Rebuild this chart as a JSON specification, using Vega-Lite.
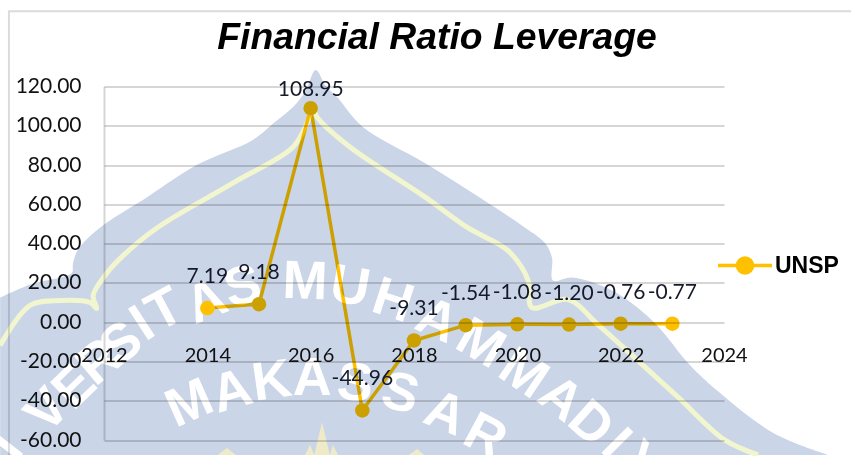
{"$schema":"https://vega.github.io/schema/vega-lite/v6.json","width":620,"height":353.5,"autosize":{"type":"none"},"padding":{"left":104,"top":86.5,"right":127,"bottom":16},"background":"white",
"title":{"text":"Financial Ratio Leverage","font":"Liberation Sans","fontSize":37.3,"fontWeight":"bold","fontStyle":"italic","color":"black","anchor":"middle","dx":23,"offset":-50},
"config":{"view":{"stroke":null}},
"datasets":{
"series":[{"year":2014,"value":7.19,"label":"7.19","series":"UNSP"},{"year":2015,"value":9.18,"label":"9.18","series":"UNSP"},{"year":2016,"value":108.95,"label":"108.95","series":"UNSP"},{"year":2017,"value":-44.96,"label":"-44.96","series":"UNSP"},{"year":2018,"value":-9.31,"label":"-9.31","series":"UNSP"},{"year":2019,"value":-1.54,"label":"-1.54","series":"UNSP"},{"year":2020,"value":-1.08,"label":"-1.08","series":"UNSP"},{"year":2021,"value":-1.2,"label":"-1.20","series":"UNSP"},{"year":2022,"value":-0.76,"label":"-0.76","series":"UNSP"},{"year":2023,"value":-0.77,"label":"-0.77","series":"UNSP"}],
"shape":[{"x":2009.99,"y":12.5},{"x":2010.63,"y":19.7},{"x":2011.2,"y":23},{"x":2011.38,"y":25.2},{"x":2011.4,"y":30},{"x":2011.5,"y":37},{"x":2011.92,"y":48.1},{"x":2012.85,"y":63.9},{"x":2013.8,"y":80.1},{"x":2014.88,"y":92.8},{"x":2015.31,"y":101.9},{"x":2015.66,"y":109.6},{"x":2015.89,"y":117.2},{"x":2016.1,"y":128.4},{"x":2016.28,"y":120.7},{"x":2016.51,"y":114.6},{"x":2017.01,"y":99.4},{"x":2018.21,"y":81.1},{"x":2019.28,"y":63.3},{"x":2020.15,"y":48.1},{"x":2020.53,"y":40.4},{"x":2020.67,"y":32.9},{"x":2020.69,"y":21.2},{"x":2021.06,"y":22.7},{"x":2021.83,"y":16.1},{"x":2022.61,"y":0.9},{"x":2023.38,"y":-23},{"x":2024.02,"y":-38.2},{"x":2024.99,"y":-57},{"x":2026.01,"y":-67.6}],
"curve":[{"o":1,"x":2009.99,"y":-11.8},{"o":2,"x":2010.57,"y":8.5},{"o":3,"x":2011.15,"y":11},{"o":4,"x":2011.73,"y":10},{"o":5,"x":2011.86,"y":7},{"o":6,"x":2011.79,"y":13.6},{"o":7,"x":2012.06,"y":25.2},{"o":8,"x":2012.37,"y":33.9},{"o":9,"x":2013.03,"y":48.1},{"o":10,"x":2014.5,"y":70.9},{"o":11,"x":2015.66,"y":89.2},{"o":12,"x":2015.93,"y":101.4},{"o":13,"x":2016.04,"y":109.1},{"o":14,"x":2016.12,"y":104.5},{"o":15,"x":2016.76,"y":89.2},{"o":16,"x":2018.21,"y":63.8},{"o":17,"x":2019.04,"y":48.1},{"o":18,"x":2019.82,"y":36.4},{"o":19,"x":2020.21,"y":21.2},{"o":20,"x":2020.28,"y":7.5},{"o":21,"x":2020.98,"y":11.5},{"o":22,"x":2021.56,"y":-1.2},{"o":23,"x":2022.33,"y":-19.5},{"o":24,"x":2023.11,"y":-38.2},{"o":25,"x":2024.02,"y":-60.1},{"o":26,"x":2024.66,"y":-67.6}],
"frame":[{"o":1,"x":2010.16,"y":-67.6},{"o":2,"x":2010.16,"y":158.3},{"o":3,"x":2026.46,"y":158.3}],
"spikes":[{"g":"a","x":2016.07,"y":-67.6},{"g":"a","x":2016.22,"y":-50.9},{"g":"a","x":2016.37,"y":-67.6},{"g":"b","x":2015.89,"y":-67.6},{"g":"b","x":2015.99,"y":-62.6},{"g":"b","x":2016.07,"y":-67.6},{"g":"c","x":2016.37,"y":-67.6},{"g":"c","x":2016.43,"y":-62.6},{"g":"c","x":2016.53,"y":-67.6},{"g":"d","x":2017.9,"y":-67.6},{"g":"d","x":2018.06,"y":-64.6},{"g":"d","x":2018.2,"y":-67.6},{"g":"e","x":2014.2,"y":-67.6},{"g":"e","x":2014.38,"y":-64.1},{"g":"e","x":2014.55,"y":-67.6}],
"letters":[{"t":"I","x":2010.14,"y":-63.6,"r":-52},{"t":"V","x":2010.92,"y":-45.3,"r":-47},{"t":"E","x":2011.44,"y":-33.2,"r":-44},{"t":"R","x":2011.92,"y":-20.5,"r":-40},{"t":"S","x":2012.35,"y":-11.3,"r":-37},{"t":"I","x":2012.75,"y":-1.2,"r":-33},{"t":"T","x":2013.18,"y":5.9,"r":-28},{"t":"A","x":2013.99,"y":10,"r":-22},{"t":"S","x":2014.69,"y":17.6,"r":-14},{"t":"M","x":2015.89,"y":20.2,"r":2},{"t":"U","x":2016.76,"y":17.6,"r":10},{"t":"H","x":2017.59,"y":10.5,"r":18},{"t":"A","x":2018.44,"y":0.4,"r":24},{"t":"M","x":2019.28,"y":-11.3,"r":30},{"t":"M","x":2020.11,"y":-26.6,"r":34},{"t":"A","x":2020.83,"y":-39.3,"r":38},{"t":"D","x":2021.41,"y":-52,"r":42},{"t":"I","x":2021.9,"y":-62.1,"r":45},{"t":"Y","x":2022.37,"y":-72.2,"r":47},{"t":"M","x":2013.66,"y":-41.8,"r":-24},{"t":"A","x":2014.48,"y":-35.7,"r":-16},{"t":"K","x":2015.25,"y":-30.6,"r":-8},{"t":"A","x":2016.03,"y":-29.1,"r":0},{"t":"S","x":2016.86,"y":-31.6,"r":6},{"t":"S","x":2017.73,"y":-36.7,"r":14},{"t":"A","x":2018.6,"y":-46.9,"r":22},{"t":"R","x":2019.37,"y":-58.6,"r":28}]
},
"layer":[
{"data":{"name":"shape"},"mark":{"type":"area","color":"#CBD5E8","interpolate":"catmull-rom"},"encoding":{"x":{"field":"x","type":"quantitative","scale":{"domain":[2012,2024],"nice":false,"zero":false},"axis":{"orient":"bottom","offset":-117.3,"values":[2012,2014,2016,2018,2020,2022,2024],"tickCount":20,"format":"d","title":null,"grid":false,"ticks":false,"domain":false,"labelFont":"Lato","labelFontSize":20,"labelColor":"#111","labelPadding":23,"labelOverlap":false,"labelBound":false,"labelFlush":false,"zindex":1}},"y":{"field":"y","type":"quantitative","scale":{"domain":[-60,120],"nice":false,"zero":false},"axis":{"values":[-60,-40,-20,0,20,40,60,80,100,120],"tickCount":30,"labelExpr":"replace(format(datum.value,'.2f'),'−','-')","title":null,"grid":true,"gridColor":"black","gridOpacity":0.16,"gridWidth":2,"ticks":false,"domain":true,"domainColor":"black","domainOpacity":0.16,"domainWidth":2,"labelFont":"Lato","labelFontSize":21,"labelColor":"#111","labelPadding":23,"labelOverlap":false,"labelBound":false,"zindex":1}},"y2":{"datum":-67.6}}},
{"data":{"name":"spikes"},"mark":{"type":"area","color":"#EFEBC9"},"encoding":{"x":{"field":"x","type":"quantitative"},"y":{"field":"y","type":"quantitative"},"y2":{"datum":-67.6},"detail":{"field":"g"}}},
{"data":{"name":"letters"},"mark":{"type":"text","font":"Liberation Sans","fontWeight":"bold","fontSize":54,"color":"white","align":"center","baseline":"middle"},"encoding":{"x":{"field":"x","type":"quantitative"},"y":{"field":"y","type":"quantitative"},"text":{"field":"t"},"angle":{"field":"r","type":"quantitative","scale":null}}},
{"data":{"name":"curve"},"mark":{"type":"line","color":"#F2F6CE","strokeWidth":5,"interpolate":"catmull-rom"},"encoding":{"x":{"field":"x","type":"quantitative"},"y":{"field":"y","type":"quantitative"},"order":{"field":"o"}}},
{"data":{"name":"frame"},"mark":{"type":"line","color":"black","opacity":0.14,"strokeWidth":2},"encoding":{"x":{"field":"x","type":"quantitative"},"y":{"field":"y","type":"quantitative"},"order":{"field":"o"}}},
{"data":{"name":"series"},"mark":{"type":"line","strokeWidth":3.5,"blend":"multiply"},"encoding":{"x":{"field":"year","type":"quantitative"},"y":{"field":"value","type":"quantitative"},"color":{"field":"series","type":"nominal","scale":{"domain":["UNSP"],"range":["#FFC000"]},"legend":{"title":null,"orient":"none","legendX":612,"legendY":150,"symbolType":"M-1,0L1,0M0.28,0A0.28,0.28 0 1 0 -0.28,0A0.28,0.28 0 1 0 0.28,0Z","symbolSize":2916,"symbolStrokeWidth":3.5,"symbolStrokeColor":"#FFC000","symbolFillColor":"#FFC000","labelFont":"Liberation Sans","labelFontSize":23,"labelFontWeight":"bold","labelColor":"black","labelOffset":1,"padding":0}}}},
{"data":{"name":"series"},"transform":[{"filter":"datum.year==2014||datum.year==2023"}],"mark":{"type":"circle","size":210,"color":"white","opacity":1},"encoding":{"x":{"field":"year","type":"quantitative"},"y":{"field":"value","type":"quantitative"}}},
{"data":{"name":"series"},"transform":[{"filter":"datum.year!=2014&&datum.year!=2023"}],"mark":{"type":"circle","size":210,"color":"#CBD5E8","opacity":1},"encoding":{"x":{"field":"year","type":"quantitative"},"y":{"field":"value","type":"quantitative"}}},
{"data":{"name":"series"},"mark":{"type":"circle","size":210,"color":"#FFC000","opacity":1,"blend":"multiply"},"encoding":{"x":{"field":"year","type":"quantitative"},"y":{"field":"value","type":"quantitative"}}},
{"data":{"name":"series"},"transform":[{"filter":"datum.value<100"}],"mark":{"type":"text","font":"Lato","fontSize":21,"color":"#151a2b","dy":-31},"encoding":{"x":{"field":"year","type":"quantitative"},"y":{"field":"value","type":"quantitative"},"text":{"field":"label"}}},
{"data":{"name":"series"},"transform":[{"filter":"datum.value>=100"}],"mark":{"type":"text","font":"Lato","fontSize":21,"color":"#151a2b","dy":-18},"encoding":{"x":{"field":"year","type":"quantitative"},"y":{"field":"value","type":"quantitative"},"text":{"field":"label"}}}
]}
